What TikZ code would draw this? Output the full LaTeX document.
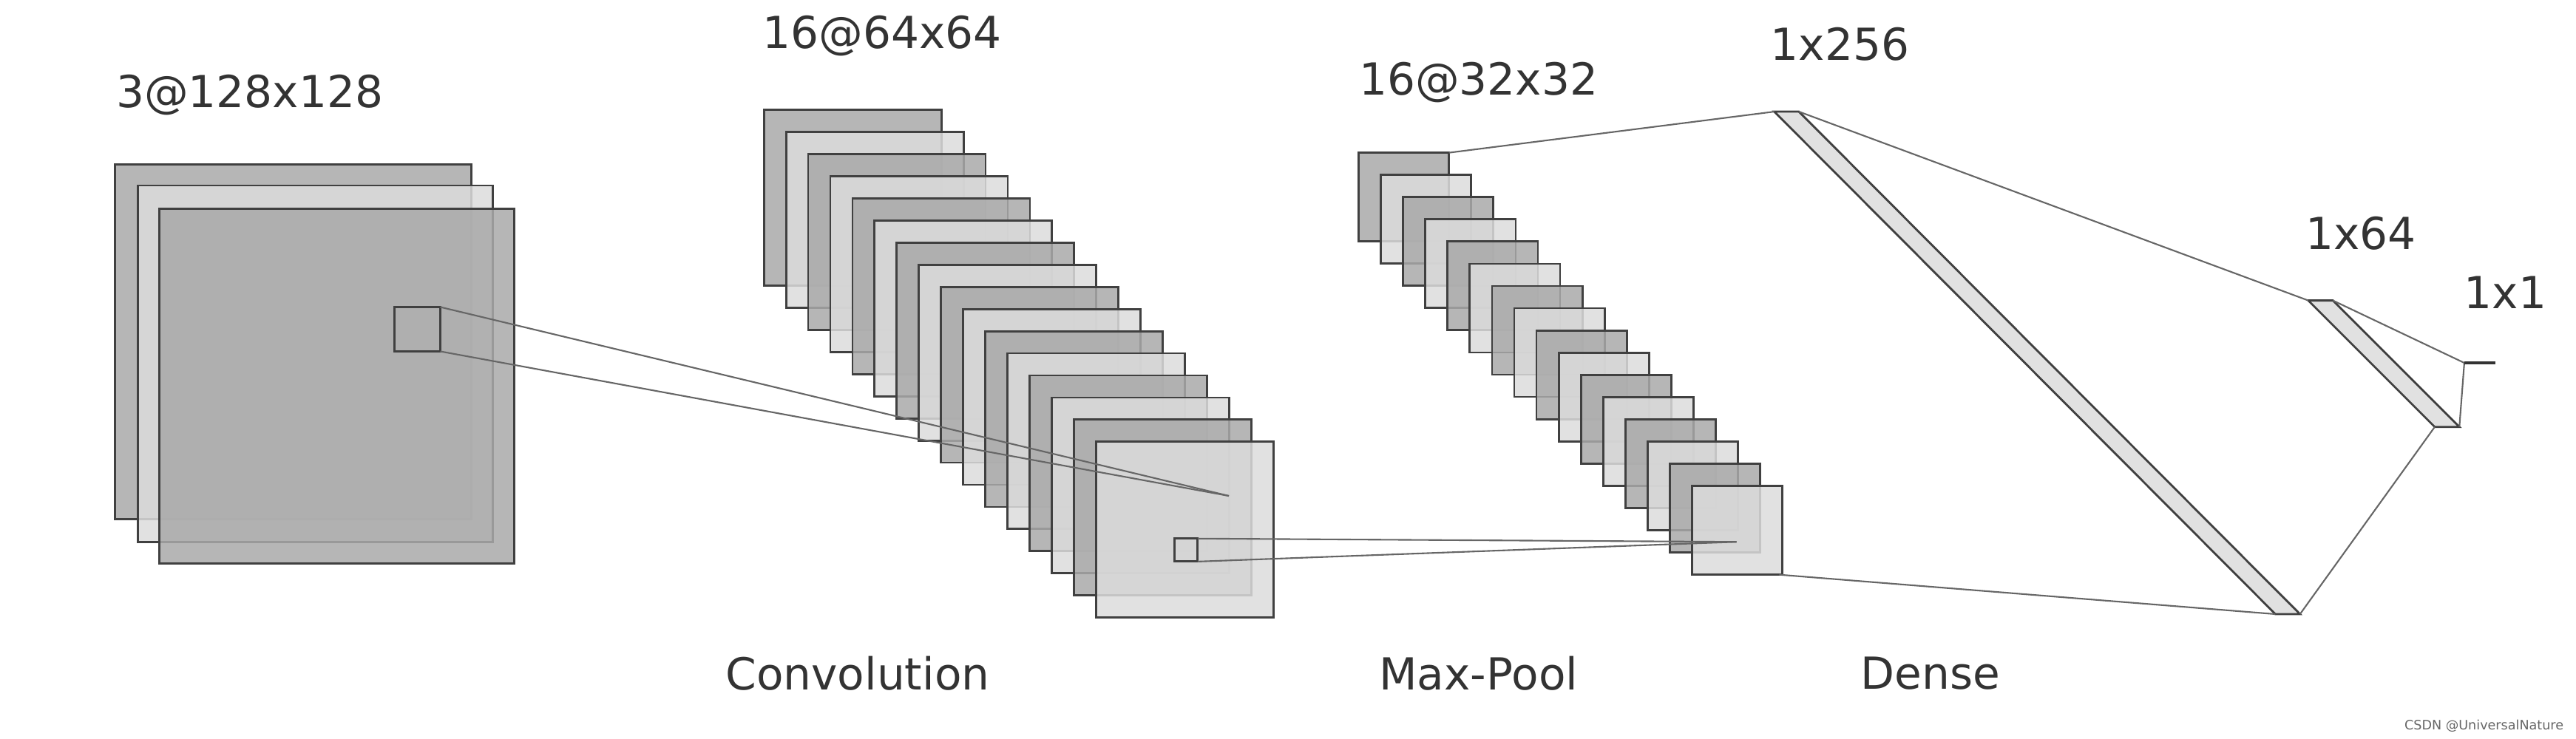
\documentclass[tikz,border=0pt]{standalone}
\usepackage{fontspec}
\setmainfont{DejaVu Sans}
\usetikzlibrary{positioning}
\definecolor{mapdark}{HTML}{A9A9A9}
\definecolor{maplight}{HTML}{DCDCDC}
\tikzset{
	fmap/.style={draw=black!75, line width=0.8pt, fill opacity=0.85},
	link/.style={draw=black!60, line width=0.6pt},
	lbl/.style={font=\fontsize{17}{20}\selectfont, text=black!80}
}

\begin{document}
\begin{tikzpicture}[x=0.02222cm,y=-0.02222cm]
		\useasboundingbox (0,0) rectangle (1568,450);
		% input
		\fill [fmap, fill=mapdark] (70,100) rectangle (287,316);
		\fill [fmap, fill=maplight] (84,113) rectangle (300,330);
		\fill [fmap, fill=mapdark] (97,127) rectangle (313,343);
		\draw [fmap] (240,187) rectangle (268,214);
		\coordinate (inA) at (268,187);
		\coordinate (inB) at (268,214);
		\node [lbl] (inlbl) at (152,58) {3@128x128};
		% convolution
		\foreach \i in {0,...,15} {
			\pgfmathsetmacro{\dx}{13.47*\i}
			\ifodd\i
				\filldraw [fmap, fill=maplight] (465+\dx,67+\dx) rectangle (573+\dx,174+\dx);
			\else
				\filldraw [fmap, fill=mapdark] (465+\dx,67+\dx) rectangle (573+\dx,174+\dx);
			\fi
		}
		\coordinate (convT) at (748,302);
		\draw [link] (inA) -- (convT);
		\draw [link] (inB) -- (convT);
		\draw [fmap] (715,328) rectangle (729,342);
		\coordinate (convA) at (729,328);
		\coordinate (convB) at (729,342);
		\node [lbl] (convtop) at (537,22) {16@64x64};
		\node [lbl] (convlbl) at (522,410) {Convolution};
		% max-pool
		\foreach \i in {0,...,15} {
			\pgfmathsetmacro{\dx}{13.53*\i}
			\ifodd\i
				\filldraw [fmap, fill=maplight] (827+\dx,93+\dx) rectangle (882+\dx,147+\dx);
			\else
				\filldraw [fmap, fill=mapdark] (827+\dx,93+\dx) rectangle (882+\dx,147+\dx);
			\fi
		}
		\coordinate (poolT) at (1057,330);
		\draw [link] (convA) -- (poolT);
		\draw [link] (convB) -- (poolT);
		\coordinate (poolF) at (882,93);
		\coordinate (poolL) at (1083,350);
		\node [lbl] (pooltop) at (900,50) {16@32x32};
		\node [lbl] (poollbl) at (900,410) {Max-Pool};
		% dense
		\filldraw [fmap, fill=maplight] (1080,68) -- (1095,68) -- (1400,374) -- (1385,374) -- cycle;
		\coordinate (d1T) at (1080,68);
		\coordinate (d1Tr) at (1095,68);
		\coordinate (d1B) at (1385,374);
		\coordinate (d1Br) at (1400,374);
		\draw [link] (poolF) -- (d1T);
		\draw [link] (poolL) -- (d1B);
		\filldraw [fmap, fill=maplight] (1405,183) -- (1420,183) -- (1497,260) -- (1482,260) -- cycle;
		\coordinate (d2T) at (1405,183);
		\coordinate (d2Tr) at (1420,183);
		\coordinate (d2B) at (1482,260);
		\coordinate (d2Br) at (1497,260);
		\draw [link] (d1Tr) -- (d2T);
		\draw [link] (d1Br) -- (d2B);
		\coordinate (outL) at (1500,221);
		\coordinate (outR) at (1519,221);
		\draw [link] (d2Tr) -- (outL);
		\draw [link] (d2Br) -- (outL);
		\draw [draw=black!80, line width=1.2pt] (outL) -- (outR);
		\node [lbl] (d1top) at (1120,27) {1x256};
		\node [lbl] (d2top) at (1437,142) {1x64};
		\node [lbl] (outtop) at (1525,178) {1x1};
		\node [lbl] (denselbl) at (1175,410) {Dense};
		\node [font=\fontsize{5}{6}\selectfont, text=black!60] (mark) at (1512,442) {CSDN @UniversalNature};
	\end{tikzpicture}
\end{document}
